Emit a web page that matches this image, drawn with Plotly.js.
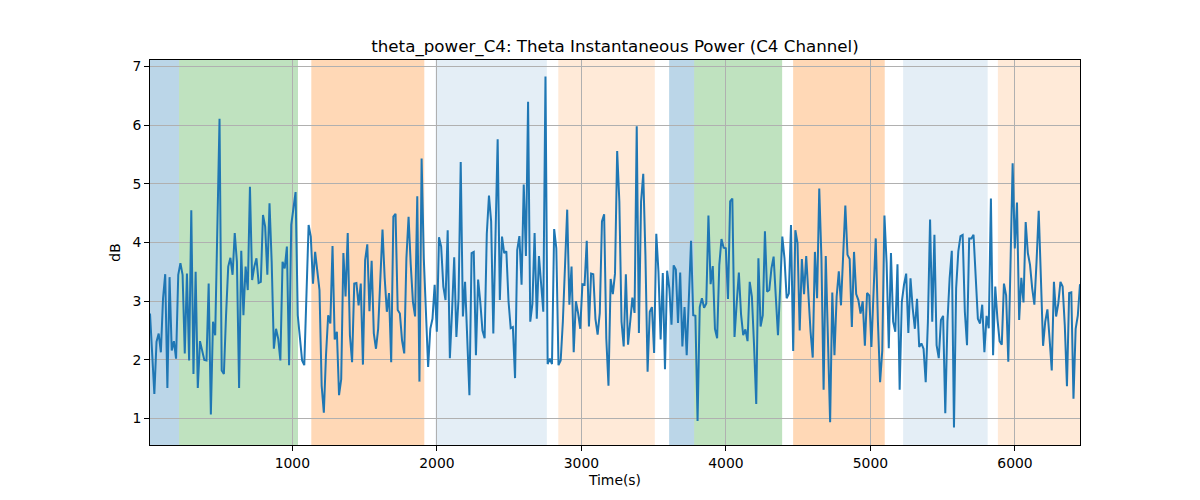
<!DOCTYPE html>
<html>
<head>
<meta charset="utf-8">
<script src="https://cdn.plot.ly/plotly-3.0.1.min.js"></script>
<style>
  html, body { margin: 0; padding: 0; background: #ffffff; }
  #chart { width: 1200px; height: 500px; }
</style>
</head>
<body>
<div id="chart"></div>
<script>
// Time span of the series (seconds)
const startTime = 15;
const endTime = 6450;

// Theta instantaneous power, dB
const powerDb = [
  2.79, 2.10, 1.42, 2.31, 2.45, 2.13, 3.05, 3.46, 1.52, 3.41, 2.16, 2.32, 2.02, 3.45, 3.65, 3.45, 2.11, 3.47, 1.99, 4.55,
  1.76, 3.50, 1.52, 2.32, 2.13, 2.00, 1.99, 3.30, 1.07, 2.65, 2.42, 4.47, 6.11, 1.82, 1.76, 2.76, 3.59, 3.74, 3.45, 4.16,
  3.67, 1.52, 3.86, 2.76, 3.59, 3.19, 4.95, 3.36, 3.59, 3.73, 3.31, 3.33, 4.47,
  4.27, 3.45, 4.67, 3.67, 2.19, 2.53, 2.36, 1.99, 3.67, 3.56, 3.93, 1.91, 4.30, 4.56, 4.86, 2.76, 2.42, 1.99, 1.91, 3.22,
  4.30, 4.10, 3.30, 3.84, 3.56, 3.19, 1.56, 1.10, 2.08, 2.76, 2.62, 3.94, 2.35, 2.48, 1.40, 1.67, 3.82, 3.08, 4.16, 2.42,
  1.96, 3.30, 3.31, 2.93, 3.30, 1.92, 3.70, 3.97, 2.83, 3.69, 2.45, 2.19, 2.53,
  3.30, 4.22, 3.40, 2.82, 3.14, 1.96, 4.44, 4.49, 2.85, 2.79, 2.33, 2.11, 3.73, 4.44, 3.62, 2.99, 2.74, 4.79, 1.63, 5.43,
  3.73, 2.76, 1.88, 2.53, 2.70, 3.28, 2.48, 4.09, 3.93, 3.25, 3.02, 4.21, 2.03, 2.82, 3.75, 2.39, 3.05, 5.37, 2.74, 3.33,
  2.33, 1.40, 3.82, 3.84, 2.08, 3.37, 2.99, 2.50, 2.37, 4.15, 4.80, 4.36, 2.45,
  4.19, 5.76, 3.02, 4.10, 3.82, 3.85, 3.00, 2.54, 2.56, 1.69, 3.87, 4.11, 3.28, 4.99, 3.77, 6.40, 2.65, 2.96, 4.16, 2.70,
  3.77, 3.25, 2.82, 6.83, 1.93, 2.02, 1.93, 4.23, 3.90, 1.91, 1.99, 2.65, 3.56, 4.56, 2.94, 3.59, 2.13, 3.00, 2.80, 2.53,
  3.29, 3.28, 4.03, 2.57, 3.47, 3.46, 2.70, 2.43, 2.80, 4.36, 4.48, 2.36, 1.56,
  3.38, 3.12, 3.47, 5.56, 4.70, 2.65, 2.23, 3.46, 2.26, 2.65, 3.06, 2.80, 5.98, 2.46, 4.70, 5.17, 3.79, 1.80, 2.82, 2.90,
  2.12, 4.15, 3.50, 2.35, 3.48, 1.84, 3.52, 3.22, 2.60, 3.61, 3.54, 2.63, 3.49, 2.23, 2.90, 2.08, 3.22, 4.03, 2.76, 2.75,
  0.96, 2.90, 3.05, 2.89, 2.96, 4.46, 3.29, 3.60, 2.53, 2.37, 3.62, 4.06, 3.91,
  3.90, 3.04, 4.70, 4.75, 2.39, 2.96, 3.49, 2.78, 2.42, 2.52, 2.32, 3.33, 3.08, 2.24, 1.25, 3.73, 2.57, 2.76, 4.19, 3.16,
  3.19, 3.56, 3.76, 3.08, 2.42, 3.22, 4.10, 3.73, 3.05, 3.13, 4.30, 2.15, 4.21, 3.99, 2.50, 3.72, 3.12, 3.77, 3.05, 2.48,
  2.04, 3.84, 3.05, 4.92, 3.73, 1.49, 3.77, 2.27, 0.94, 3.15, 2.08, 3.08, 3.51,
  2.93, 3.79, 4.63, 3.79, 3.72, 2.56, 3.84, 3.12, 3.02, 2.79, 3.00, 2.24, 3.14, 3.10, 2.22, 3.16, 4.07, 2.65, 1.62, 2.16,
  4.46, 3.65, 2.20, 3.82, 2.65, 2.48, 3.63, 1.49, 2.99, 3.28, 3.47, 2.46, 3.39, 2.88, 2.53, 3.04, 2.22, 2.28, 2.19, 1.62,
  2.65, 4.39, 2.65, 4.13, 2.25, 2.03, 2.68, 2.75, 1.09, 2.65, 3.39, 3.86, 0.85,
  3.22, 3.85, 4.11, 4.13, 2.82, 2.25, 4.07, 4.07, 4.13, 3.33, 2.70, 2.62, 2.94, 2.13, 2.75, 2.54, 4.75, 2.08, 3.25, 2.70,
  2.32, 2.26, 3.30, 3.10, 1.97, 3.60, 5.35, 3.90, 4.68, 2.68, 3.40, 2.98, 4.35, 3.82, 3.62, 3.22, 2.94, 3.67, 4.54, 3.40,
  2.24, 2.65, 2.86, 2.36, 1.82, 3.33, 2.74, 2.96, 3.33, 3.25, 2.59, 1.55, 3.14, 3.15, 1.34, 2.53, 2.76, 3.29
];

const stepTime = (endTime - startTime) / (powerDb.length - 1);
const timeSec = powerDb.map((_, i) => startTime + i * stepTime);
const tMin = startTime;
const tMax = endTime;

// Shaded segments: start, end (seconds) and kind
const segStart = [tMin, 216, 1131, 1991, 2840, 3607, 3780, 4465, 5226, 5882];
const segEnd   = [216, 1039, 1913, 2761, 3508, 3780, 4389, 5099, 5811, tMax];
const segKind  = ['blue', 'green', 'orange', 'lightblue', 'lightorange', 'blue', 'green', 'orange', 'lightblue', 'lightorange'];

const kindColor = {
  blue: 'rgba(31,119,180,0.3)',
  green: 'rgba(44,160,44,0.3)',
  orange: 'rgba(255,127,14,0.3)',
  lightblue: 'rgba(31,119,180,0.12)',
  lightorange: 'rgba(255,127,14,0.16)'
};

const xTicks = [1000, 2000, 3000, 4000, 5000, 6000];
const yTicks = [1, 2, 3, 4, 5, 6, 7];

const shapes = segStart.map((s, i) => ({
  type: 'rect', xref: 'x', yref: 'paper',
  x0: s, x1: segEnd[i], y0: 0, y1: 1,
  fillcolor: kindColor[segKind[i]],
  line: { width: 0 },
  layer: 'below'
}));

const trace = {
  x: timeSec, y: powerDb,
  type: 'scatter', mode: 'lines',
  line: { color: '#1f77b4', width: 2 },
  hoverinfo: 'x+y'
};

const font = { family: 'DejaVu Sans, sans-serif', size: 13.9, color: '#000000' };

const layout = {
  width: 1200, height: 500,
  margin: { l: 150, r: 120, t: 60, b: 55 },
  paper_bgcolor: '#ffffff',
  plot_bgcolor: '#ffffff',
  font: font,
  showlegend: false,
  title: {
    text: 'theta_power_C4: Theta Instantaneous Power (C4 Channel)',
    font: { family: 'DejaVu Sans, sans-serif', size: 16.7, color: '#000000' },
    xref: 'paper', x: 0.5, xanchor: 'center',
    yref: 'container', y: 0.908, yanchor: 'middle'
  },
  xaxis: {
    range: [tMin, tMax],
    tickvals: xTicks,
    ticktext: xTicks.map(String),
    ticks: 'outside', ticklen: 5, tickwidth: 1, tickcolor: '#000000',
    showline: true, mirror: true, linecolor: '#000000', linewidth: 1,
    showgrid: true, gridcolor: '#b0b0b0', gridwidth: 1,
    zeroline: false,
    title: { text: 'Time(s)', font: font, standoff: 5 }
  },
  yaxis: {
    range: [0.55, 7.11],
    tickvals: yTicks,
    ticktext: yTicks.map(String),
    ticks: 'outside', ticklen: 5, tickwidth: 1, tickcolor: '#000000',
    showline: true, mirror: true, linecolor: '#000000', linewidth: 1,
    showgrid: true, gridcolor: '#b0b0b0', gridwidth: 1,
    zeroline: false,
    title: { text: 'dB', font: font, standoff: 8 }
  },
  shapes: shapes
};

Plotly.newPlot('chart', [trace], layout, { displayModeBar: false, staticPlot: true });
</script>
</body>
</html>
